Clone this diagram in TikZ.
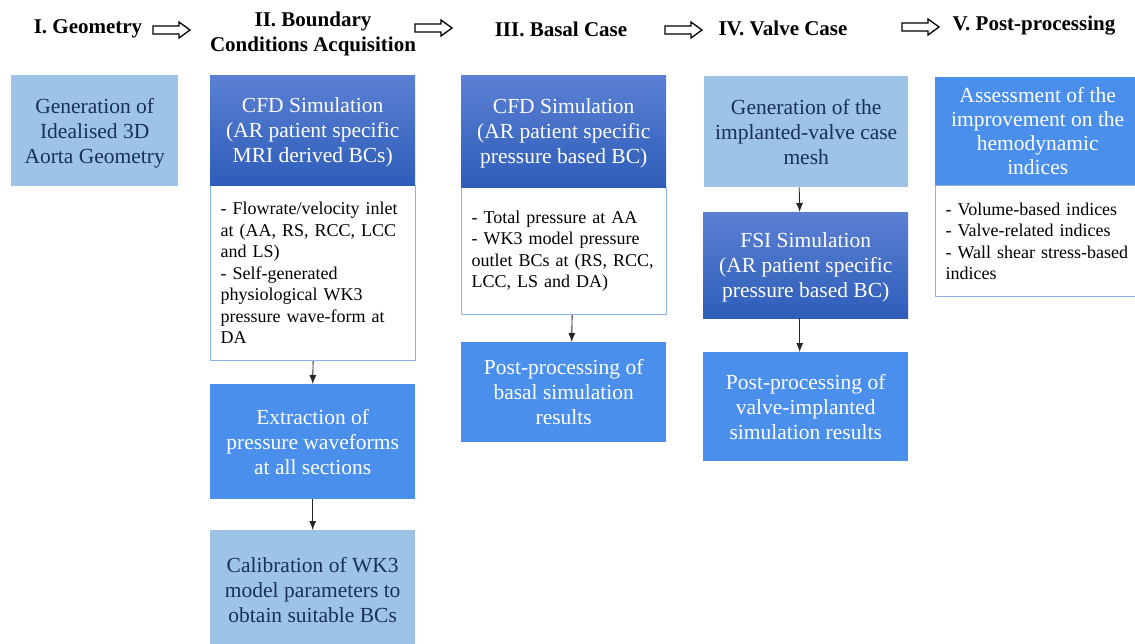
\documentclass[tikz,border=0pt]{standalone}
\usepackage{fontspec}
\setmainfont{Liberation Serif}
\usetikzlibrary{arrows.meta}
\definecolor{lightbox}{HTML}{9DC3E6}
\definecolor{navytext}{HTML}{1A2F5E}
\definecolor{midbox}{HTML}{4A8FEC}
\definecolor{gradtop}{HTML}{5B80D3}
\definecolor{gradbot}{HTML}{2E5DB9}
\definecolor{edgeblue}{HTML}{8EB4E3}
\tikzset{
  boxbase/.style={inner sep=4pt, align=center, anchor=north west,
    font=\rmfamily\fontsize{21.5}{25}\selectfont},
  lightnode/.style={boxbase, fill=lightbox, text=navytext},
  midnode/.style={boxbase, fill=midbox, text=white},
  gradnode/.style={boxbase, top color=gradtop, bottom color=gradbot, text=white,
    text depth=0pt},
  listnode/.style={anchor=north west, draw=edgeblue, line width=1.2pt, fill=white,
    align=left, inner xsep=10pt, inner ysep=4pt,
    font=\rmfamily\fontsize{18}{21.5}\selectfont},
  hdr/.style={font=\rmfamily\bfseries\fontsize{21}{25}\selectfont, align=center, inner sep=0pt},
  hollow/.style={draw=black, fill=white, line width=1.3pt, line join=miter},
  flow/.style={-{Latex[length=9pt,width=7pt]}, line width=0.9pt, draw=black!85}
}
\begin{document}
\begin{tikzpicture}[x=1pt,y=-1pt]
\useasboundingbox[fill=white] (0,0) rectangle (1135,644);

% headers
\node[hdr] (h1) at (88,29) {I. Geometry};
\node[hdr] (h2) at (313,34) {II. Boundary\\Conditions Acquisition};
\node[hdr] (h3) at (561,29) {III. Basal Case};
\node[hdr] (h4) at (783,28) {IV. Valve Case};
\node[hdr] (h5) at (1034,26) {V. Post-processing};

% hollow arrows between headers
\foreach \cx/\cy in {171/30, 433/28, 683/30, 920/27}{
  \draw[hollow] (\cx-18,\cy-4) -- (\cx+8,\cy-4) -- (\cx+8,\cy-8) -- (\cx+19,\cy)
    -- (\cx+8,\cy+8) -- (\cx+8,\cy+4) -- (\cx-18,\cy+4) -- cycle;
}

% Column I
\node[lightnode, minimum width=167pt, minimum height=111pt, text depth=0pt] (geo) at (11,75)
  {Generation of\\Idealised 3D\\Aorta Geometry};

% Column II
\node[listnode, minimum width=205pt, minimum height=175pt, text width=185pt] (list2) at (210,185)
  {- Flowrate/velocity inlet\\at (AA, RS, RCC, LCC\\and LS)\\- Self-generated\\physiological WK3\\pressure wave-form at\\DA};
\node[gradnode, minimum width=205pt, minimum height=110pt] (cfd2) at (210,75)
  {CFD Simulation\\(AR patient specific\\MRI derived BCs)};
\node[midnode, minimum width=205pt, minimum height=115pt] (extr) at (210,384)
  {Extraction of\\pressure waveforms\\at all sections};
\node[lightnode, minimum width=205pt, minimum height=120pt] (calib) at (210,530)
  {Calibration of WK3\\model parameters to\\obtain suitable BCs};

% Column III
\node[listnode, minimum width=205pt, minimum height=127pt, text width=185pt] (list3) at (461,187)
  {- Total pressure at AA\\- WK3 model pressure\\outlet BCs at (RS, RCC,\\LCC, LS and DA)};
\node[gradnode, minimum width=205pt, minimum height=112pt] (cfd3) at (461,75)
  {CFD Simulation\\(AR patient specific\\pressure based BC)};
\node[midnode, minimum width=205pt, minimum height=100pt] (post3) at (461,342)
  {Post-processing of\\basal simulation\\results};

% Column IV
\node[lightnode, minimum width=204pt, minimum height=111pt] (gen4) at (704,76)
  {Generation of the\\implanted-valve case\\mesh};
\node[gradnode, minimum width=205pt, minimum height=106pt] (fsi4) at (703,212)
  {FSI Simulation\\(AR patient specific\\pressure based BC)};
\node[midnode, minimum width=205pt, minimum height=109pt] (post4) at (703,352)
  {Post-processing of\\valve-implanted\\simulation results};

% Column V
\node[listnode, minimum width=210pt, minimum height=111pt, text width=190pt] (list5) at (935,185)
  {- Volume-based indices\\- Valve-related indices\\- Wall shear stress-based\\indices};
\node[midnode, minimum width=205pt, minimum height=108pt, text depth=0pt,
  font=\rmfamily\fontsize{21.5}{24}\selectfont] (ass5) at (935,77)
  {Assessment of the\\improvement on the\\hemodynamic\\indices};

% connectors
\draw[flow] (list2.south) -- (extr.north);
\draw[flow] (extr.south) -- (calib.north);
\draw[flow] ([xshift=8pt]list3.south) -- ([xshift=8pt]post3.north);
\draw[flow] ([xshift=-7pt]gen4.south) -- ([xshift=-6pt]fsi4.north);
\draw[flow] ([xshift=-6pt]fsi4.south) -- ([xshift=-6pt]post4.north);
\end{tikzpicture}
\end{document}
